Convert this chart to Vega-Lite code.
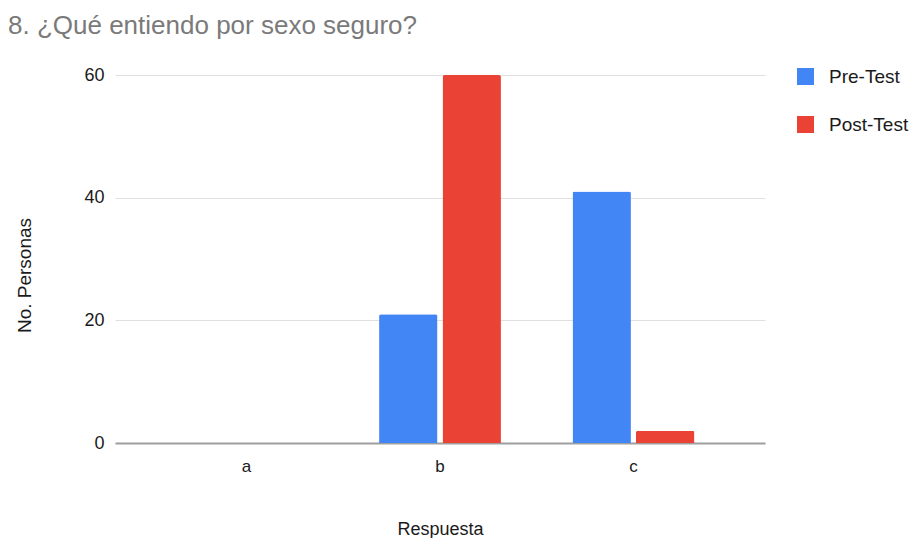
{
  "$schema": "https://vega.github.io/schema/vega-lite/v6.json",
  "width": 650,
  "height": 368,
  "autosize": {"type": "none"},
  "padding": {"left": 115, "top": 75, "right": 158, "bottom": 95},
  "background": "white",
  "title": {
    "text": "8. ¿Qué entiendo por sexo seguro?",
    "anchor": "start",
    "frame": "group",
    "orient": "top",
    "dx": -107,
    "offset": 27,
    "font": "Liberation Sans",
    "fontSize": 26,
    "fontWeight": "normal",
    "color": "#7a7a7a"
  },
  "config": {
    "view": {"stroke": null},
    "font": "Liberation Sans"
  },
  "data": {
    "values": [
      {"respuesta": "a", "prueba": "Pre-Test", "personas": 0},
      {"respuesta": "a", "prueba": "Post-Test", "personas": 0},
      {"respuesta": "b", "prueba": "Pre-Test", "personas": 21},
      {"respuesta": "b", "prueba": "Post-Test", "personas": 60},
      {"respuesta": "c", "prueba": "Pre-Test", "personas": 41},
      {"respuesta": "c", "prueba": "Post-Test", "personas": 2}
    ]
  },
  "mark": {"type": "bar", "cornerRadiusTopLeft": 2, "cornerRadiusTopRight": 2},
  "encoding": {
    "x": {
      "field": "respuesta",
      "type": "nominal",
      "scale": {"paddingInner": 0.37, "paddingOuter": 0.365},
      "axis": {
        "title": "Respuesta",
        "titleFont": "Liberation Sans",
        "titleFontSize": 18,
        "titleFontWeight": "normal",
        "titleColor": "#1a1a1a",
        "titlePadding": 46,
        "labelAngle": 0,
        "labelFont": "Liberation Sans",
        "labelFontSize": 17,
        "labelFontWeight": "normal",
        "labelColor": "#1a1a1a",
        "labelPadding": 15,
        "ticks": false,
        "domainColor": "#9e9e9e",
        "domainWidth": 2
      }
    },
    "xOffset": {
      "field": "prueba",
      "type": "nominal",
      "sort": ["Pre-Test", "Post-Test"],
      "scale": {"paddingInner": 0.08}
    },
    "y": {
      "field": "personas",
      "type": "quantitative",
      "scale": {"domain": [0, 60], "nice": false},
      "axis": {
        "title": "No. Personas",
        "titleFont": "Liberation Sans",
        "titleFontSize": 19,
        "titleFontWeight": "normal",
        "titleColor": "#1a1a1a",
        "titleX": -81,
        "titleY": 200,
        "values": [0, 20, 40, 60],
        "labelFont": "Liberation Sans",
        "labelFontSize": 18,
        "labelFontWeight": "normal",
        "labelColor": "#1a1a1a",
        "labelPadding": 11,
        "ticks": false,
        "domain": false,
        "gridColor": "#e0e0e0",
        "gridWidth": 1
      }
    },
    "color": {
      "field": "prueba",
      "type": "nominal",
      "sort": ["Pre-Test", "Post-Test"],
      "scale": {"domain": ["Pre-Test", "Post-Test"], "range": ["#4285F4", "#EA4335"]},
      "legend": {
        "title": null,
        "orient": "none",
        "legendX": 681,
        "legendY": -8,
        "symbolType": "square",
        "symbolSize": 289,
        "symbolStrokeWidth": 0,
        "labelFont": "Liberation Sans",
        "labelFontSize": 19,
        "labelFontWeight": "normal",
        "labelColor": "#1a1a1a",
        "labelOffset": 14,
        "rowPadding": 28
      }
    }
  }
}
